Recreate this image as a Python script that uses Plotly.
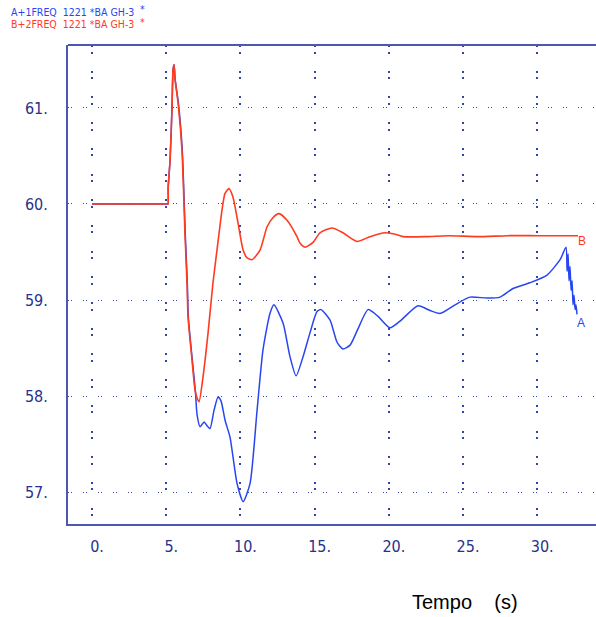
import plotly.graph_objects as go

# Time (s) and frequency (Hz)
t_b = [0.0, 2.0, 4.0, 4.8, 5.05, 5.12, 5.13, 5.26, 5.39, 5.46, 5.53, 5.59, 5.80, 6.06, 6.27, 6.40, 6.47, 6.74, 6.94, 7.08,
       7.21, 7.48, 7.82, 8.15, 8.42, 8.76, 8.96, 9.23, 9.50, 9.84, 10.18, 10.44, 10.78, 11.32,
       11.79, 12.20, 12.60, 13.14, 13.81, 14.02, 14.35, 14.89, 15.36, 16.17, 16.91, 17.86,
       18.73, 19.74, 20.55, 20.96, 22.5, 24.0, 26.0, 28.0, 30.0, 32.75]
f_b = [60.0, 60.0, 60.0, 60.0, 60.0, 60.0, 60.17, 60.46, 61.01, 61.40, 61.45, 61.30, 61.05, 60.56, 59.66, 59.18, 58.82, 58.37, 58.06, 57.98,
       57.94, 58.20, 58.66, 59.18, 59.52, 59.94, 60.11, 60.16, 60.07, 59.80, 59.52, 59.44, 59.42, 59.52,
       59.76, 59.86, 59.90, 59.83, 59.66, 59.59, 59.55, 59.60, 59.70, 59.75, 59.70, 59.61,
       59.66, 59.70, 59.68, 59.66, 59.66, 59.67, 59.66, 59.67, 59.67, 59.67]

t_a = [0.0, 2.0, 4.0, 4.8, 5.05, 5.12, 5.13, 5.26, 5.39, 5.46, 5.53, 5.60, 5.82, 6.08, 6.29, 6.42, 6.49, 6.76, 6.96, 7.08,
       7.28, 7.55, 7.75, 7.95, 8.22, 8.49, 8.69, 8.96, 9.30, 9.77, 10.18, 10.65, 11.12, 11.52,
       11.99, 12.26, 12.87, 13.34, 13.75, 14.22, 14.69, 15.16, 15.43, 16.04, 16.51, 16.91,
       17.39, 17.92, 18.60, 19.27, 20.08, 20.75, 21.97, 22.78, 23.45, 24.46, 25.47, 26.62,
       27.49, 28.37, 29.51, 30.66, 31.54, 31.94, 32.01, 32.08, 32.14, 32.21, 32.28, 32.35,
       32.41, 32.48, 32.55, 32.61, 32.68]
f_a = [60.0, 60.0, 60.0, 60.0, 60.0, 60.0, 60.17, 60.46, 61.01, 61.40, 61.45, 61.30, 61.05, 60.56, 59.66, 59.18, 58.82, 58.37, 58.06, 57.80,
       57.68, 57.73, 57.69, 57.66, 57.85, 57.99, 57.95, 57.75, 57.57, 57.09, 56.90, 57.09, 57.85, 58.48,
       58.86, 58.95, 58.76, 58.41, 58.21, 58.41, 58.66, 58.88, 58.90, 58.79, 58.56, 58.49,
       58.53, 58.70, 58.90, 58.83, 58.71, 58.78, 58.94, 58.89, 58.86, 58.95, 59.03, 59.02,
       59.03, 59.12, 59.18, 59.26, 59.42, 59.55, 59.30, 59.48, 59.20, 59.35, 59.10, 59.20,
       58.95, 59.05, 58.90, 58.95, 58.85]

x_ticks = [0, 5, 10, 15, 20, 25, 30]
x_labels = ["0.", "5.", "10.", "15.", "20.", "25.", "30."]
y_ticks = [57, 58, 59, 60, 61]
y_labels = ["57.", "58.", "59.", "60.", "61."]

BLUE = "#2846f0"
RED = "#ff3a1e"
AX = "#4a58b0"
NAVY = "#27318a"
NARROW = "Liberation Sans Narrow, DejaVu Sans Condensed, Liberation Sans, Arial"

fig = go.Figure()
fig.add_trace(go.Scatter(x=t_a, y=f_a, mode="lines",
                         line=dict(color=BLUE, width=1.5, shape="spline", smoothing=0.6), showlegend=False))
fig.add_trace(go.Scatter(x=t_b, y=f_b, mode="lines",
                         line=dict(color=RED, width=1.6, shape="spline", smoothing=0.6), showlegend=False))

fig.update_layout(
    width=596, height=617,
    margin=dict(l=68, r=0, t=45, b=93),
    paper_bgcolor="white", plot_bgcolor="white",
    font=dict(family="Liberation Sans, Arial, sans-serif"),
)
fig.update_xaxes(
    range=[-1.62, 33.96], tickvals=x_ticks, ticktext=x_labels,
    showline=True, linecolor=AX, linewidth=2, mirror=False,
    showgrid=True, gridcolor="#3344aa", gridwidth=1.5, griddash="2px,4.5px,2px,17.2px",
    zeroline=False, ticks="", ticklabelshift=5, ticklabelstandoff=7,
    tickfont=dict(size=16, color=NAVY, family=NARROW),
)
fig.update_yaxes(
    range=[56.667, 61.656], tickvals=y_ticks, ticktext=y_labels,
    showline=True, linecolor=AX, linewidth=2, mirror=False,
    showgrid=True, gridcolor="#3344aa", gridwidth=1, griddash="1px,2.3px,1px,10.7px",
    zeroline=False, ticks="", ticklabelstandoff=15,
    tickfont=dict(size=16, color=NAVY, family=NARROW),
)
fig.add_shape(type="line", xref="paper", yref="paper", x0=0, x1=1, y0=1, y1=1,
              line=dict(color=AX, width=2))

annotations = [
    dict(text="A+1FREQ\u00a0\u00a01221\u00a0*BA\u00a0GH-3", x=10, y=11.5, color=BLUE),
    dict(text="B+2FREQ\u00a0\u00a01221\u00a0*BA\u00a0GH-3", x=10, y=24, color=RED),
    dict(text="*", x=139, y=9.5, color=BLUE),
    dict(text="*", x=139, y=22, color=RED),
]
for a in annotations:
    fig.add_annotation(text=a["text"], xref="paper", yref="paper",
                       x=(a["x"] - 68) / 528, y=1 + (45 - a["y"]) / 479,
                       xanchor="left", yanchor="middle", showarrow=False, borderpad=0,
                       font=dict(size=10.5, color=a["color"], family=NARROW))

fig.add_annotation(text="A", x=t_a[-1], y=f_a[-1], xref="x", yref="y", showarrow=False,
                   xshift=4, yshift=-9, font=dict(size=12, color=BLUE))
fig.add_annotation(text="B", x=t_b[-1], y=f_b[-1], xref="x", yref="y", showarrow=False,
                   xshift=4, yshift=-5, font=dict(size=12, color=RED))

fig.add_annotation(text="Tempo\u00a0\u00a0\u00a0\u00a0(s)", xref="paper", yref="paper",
                   x=(465 - 68) / 528, y=-(602 - 524) / 479, xanchor="center", yanchor="middle",
                   showarrow=False, font=dict(size=20, color="black", family="Liberation Sans, Arial"))

fig.write_html("out.html")
